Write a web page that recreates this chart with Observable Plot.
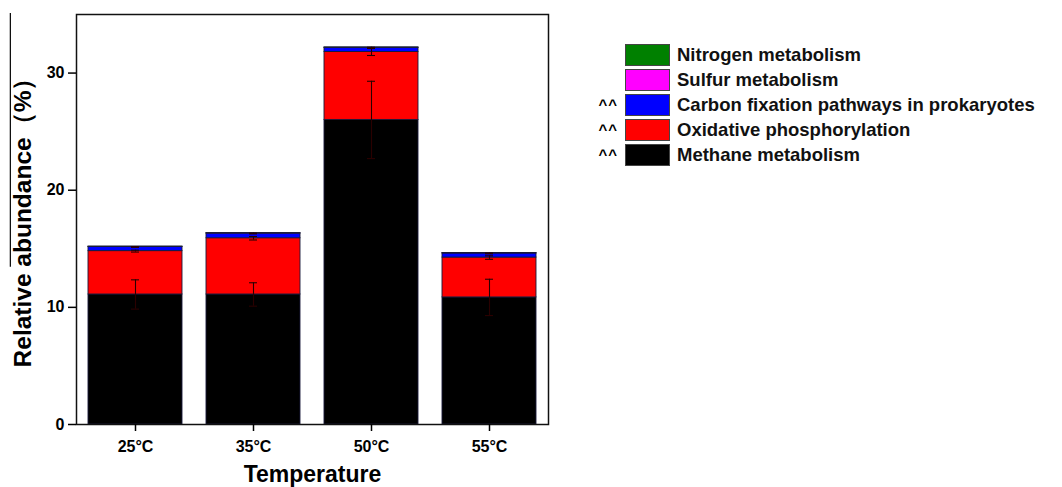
<!DOCTYPE html>
<html><head><meta charset="utf-8">
<script src="https://cdn.jsdelivr.net/npm/d3@7"></script>
<script src="https://cdn.jsdelivr.net/npm/@observablehq/plot@0.6"></script>
<style>
body{margin:0;background:#fff;font-family:"Liberation Sans",Arial,sans-serif;}
#wrap{position:relative;width:1062px;height:487px;}
#legend{position:absolute;left:588px;top:42px;}
.row{display:flex;align-items:center;height:25px;}
.mk{width:30px;text-align:right;font-weight:bold;font-size:15px;padding-right:7px;letter-spacing:1px}
.sw{width:45px;height:22px;border:1px solid #444;box-sizing:border-box;margin-right:7px}
.lab{font-weight:bold;font-size:18.5px;white-space:nowrap;color:#111}
</style></head><body><div id="wrap"></div>
<script>
const temps = ["25°C", "35°C", "50°C", "55°C"];
const pathways = ["Methane metabolism", "Oxidative phosphorylation", "Carbon fixation pathways in prokaryotes", "Sulfur metabolism", "Nitrogen metabolism"];
const colors = ["#000000", "#ff0000", "#0000ff", "#ff00ff", "#008000"];
const markers = ["^^", "^^", "^^", "", ""];
const methane = [11.1, 11.1, 26.0, 10.85];
const oxidative = [3.7, 4.8, 5.8, 3.4];
const carbon = [0.35, 0.4, 0.35, 0.35];
const sulfur = [0.02, 0.02, 0.02, 0.02];
const nitrogen = [0.02, 0.02, 0.02, 0.02];
const methaneErr = [1.25, 1.0, 3.3, 1.55];
const oxidativeErr = [0.08, 0.15, 0.3, 0.15];
const carbonErr = [0.03, 0.03, 0.05, 0.03];
const yTicks = [0, 10, 20, 30];
const xLabel = "Temperature";
const yLabel = "Relative abundance（%）";

const series = [methane, oxidative, carbon, sulfur, nitrogen];
const errs = [methaneErr, oxidativeErr, carbonErr];

const data = [];
series.forEach((vals, si) => vals.forEach((v, ti) => data.push({temp: temps[ti], pathway: pathways[si], value: v})));

const errData = [];
temps.forEach((t, ti) => {
  let cum = 0;
  errs.forEach((e, si) => {
    cum += series[si][ti];
    errData.push({temp: t, top: cum, lo: cum - e[ti], hi: cum + e[ti]});
  });
});

const errColor = "#2a0000";
const plot = Plot.plot({
  width: 1062,
  height: 487,
  marginLeft: 76,
  marginRight: 514,
  marginTop: 14,
  marginBottom: 63,
  style: {fontFamily: '"Liberation Sans", Arial, sans-serif', fontSize: "16px", fontWeight: "bold", color: "#000", background: "#fff"},
  x: {domain: temps, paddingInner: 0.2, paddingOuter: 0.1, label: null},
  y: {domain: [0, 35], label: null},
  color: {domain: pathways, range: colors},
  marks: [
    Plot.barY(data, Plot.stackY({order: pathways}, {x: "temp", y: "value", fill: "pathway", stroke: "#1a1a3a", strokeWidth: 0.9})),
    Plot.ruleX(errData, {x: "temp", y1: "lo", y2: "hi", stroke: errColor, strokeWidth: 1.1}),
    Plot.tickY(errData, {x: "temp", y: "hi", insetLeft: 43, insetRight: 43, stroke: errColor, strokeWidth: 1.1}),
    Plot.tickY(errData, {x: "temp", y: "lo", insetLeft: 43, insetRight: 43, stroke: errColor, strokeWidth: 1.1}),
    Plot.frame({stroke: "#111", strokeWidth: 1.5}),
    Plot.axisY({ticks: yTicks, tickSize: 8, tickPadding: 4, tickFormat: d3.format("d"), label: null, fontSize: 16, fontWeight: "bold", strokeWidth: 1.5}),
    Plot.axisX({tickSize: 7, tickPadding: 9, label: null, fontSize: 16, fontWeight: "bold", strokeWidth: 1.5}),
    Plot.text([xLabel], {frameAnchor: "bottom", dy: 57, fontSize: 23, fontWeight: "bold", fill: "#000"}),
    Plot.text([yLabel], {frameAnchor: "left", textAnchor: "middle", dx: -53, dy: -3, rotate: -90, fontSize: 24.5, fontWeight: "bold", fill: "#000"})
  ]
});

const wrap = document.getElementById("wrap");
wrap.appendChild(plot);

// overline over "abundance（%）" as in the reference, measured from the text itself
plot.querySelectorAll("text").forEach(t => {
  if (t.textContent === yLabel) {
    try {
      const start = t.getStartPositionOfChar(9);
      const bb = t.getBBox();
      const ctm = t.getCTM();
      const endX = ctm.f - 13;
      const line = document.createElementNS("http://www.w3.org/2000/svg", "line");
      line.setAttribute("x1", start.x);
      line.setAttribute("x2", Math.max(endX, bb.x + bb.width));
      line.setAttribute("y1", bb.y + 1);
      line.setAttribute("y2", bb.y + 1);
      line.setAttribute("stroke", "#000");
      line.setAttribute("stroke-width", "1.2");
      line.setAttribute("transform", t.getAttribute("transform") || "");
      t.parentNode.appendChild(line);
    } catch (e) {}
  }
});

const legend = document.createElement("div");
legend.id = "legend";
for (let i = pathways.length - 1; i >= 0; i--) {
  const row = document.createElement("div");
  row.className = "row";
  row.innerHTML = `<span class="mk">${markers[i]}</span><span class="sw" style="background:${colors[i]}"></span><span class="lab">${pathways[i]}</span>`;
  legend.appendChild(row);
}
wrap.appendChild(legend);
</script>
</body></html>
